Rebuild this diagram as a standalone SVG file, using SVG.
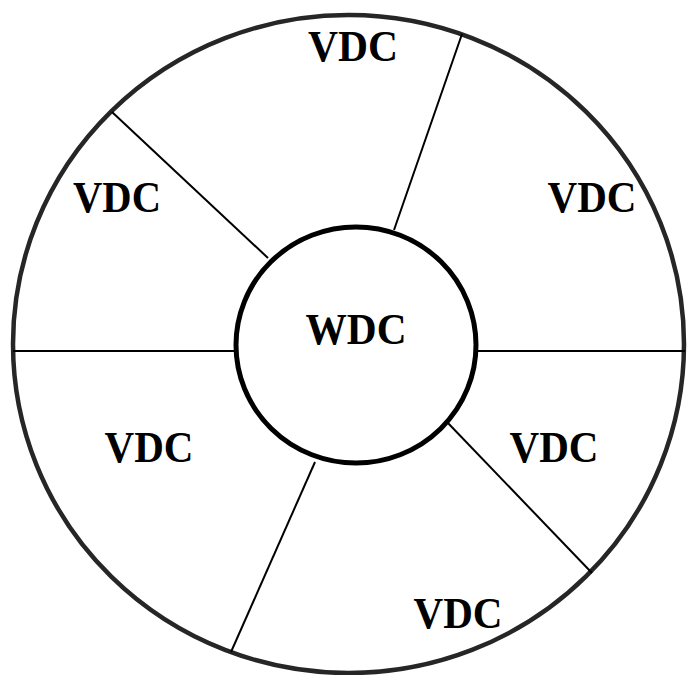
<svg xmlns="http://www.w3.org/2000/svg" width="687" height="675" viewBox="0 0 687 675">
<style>
.lbl{font-family:"Liberation Serif","Times New Roman",serif;font-weight:bold;font-size:44px;fill:#000;text-anchor:middle}
.ln{stroke:#000;stroke-width:2;fill:none}
</style>
<rect width="687" height="675" fill="#fff"/>
<g id="outer">
<ellipse cx="348.5" cy="344" rx="335.5" ry="329" fill="#fff" stroke="#262626" stroke-width="4.5"/>
</g>
<g id="connectors">
<line class="ln" x1="13" y1="351" x2="235" y2="351"/>
<line class="ln" x1="477" y1="351" x2="685" y2="351"/>
<line class="ln" x1="462" y1="34" x2="394" y2="230"/>
<line class="ln" x1="112" y1="112" x2="268" y2="258"/>
<line class="ln" x1="447" y1="422" x2="592" y2="573"/>
<line class="ln" x1="315" y1="462" x2="231" y2="652"/>
</g>
<g id="wdc">
<ellipse cx="356" cy="345" rx="120" ry="118" fill="#fff" stroke="#000" stroke-width="5"/>
<text class="lbl" x="356" y="344" textLength="101" lengthAdjust="spacingAndGlyphs">WDC</text>
</g>
<g id="vdc-top"><text class="lbl" x="353" y="61" textLength="90" lengthAdjust="spacingAndGlyphs">VDC</text></g>
<g id="vdc-upper-left"><text class="lbl" x="117" y="212" textLength="88" lengthAdjust="spacingAndGlyphs">VDC</text></g>
<g id="vdc-upper-right"><text class="lbl" x="592" y="212" textLength="89" lengthAdjust="spacingAndGlyphs">VDC</text></g>
<g id="vdc-lower-left"><text class="lbl" x="149" y="462" textLength="89" lengthAdjust="spacingAndGlyphs">VDC</text></g>
<g id="vdc-lower-right"><text class="lbl" x="554" y="462" textLength="89" lengthAdjust="spacingAndGlyphs">VDC</text></g>
<g id="vdc-bottom"><text class="lbl" x="458" y="628" textLength="89" lengthAdjust="spacingAndGlyphs">VDC</text></g>
</svg>
